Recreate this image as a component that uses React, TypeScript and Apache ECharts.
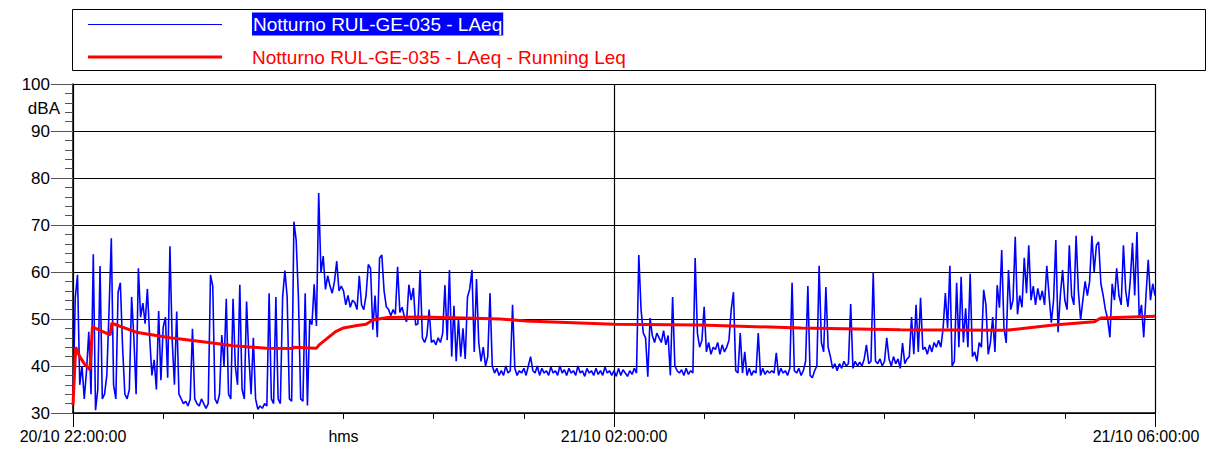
import React, { useEffect, useRef } from "react";
import * as echarts from "echarts";

// LAeq, one value per minute from 20/10 22:00:00 (minute 0) to 21/10 06:00:00 (minute 480)
const laeq: number[] = [
  32, 54.5, 59.4, 36, 40, 33, 39, 47.3, 34, 63.8,
  30.6, 35, 61.3, 33, 34, 38, 52, 67.2, 36, 33,
  55.7, 57.7, 44, 34, 33, 35, 54.7, 46, 34, 60.8,
  50.4, 53.4, 49, 56.4, 46.2, 38, 41.3, 35, 51.7, 37,
  48.2, 50.4, 37.5, 65.5, 45.5, 36, 51.6, 34, 33, 32,
  32.5, 31.5, 33, 47.9, 33, 32, 31.5, 33, 32, 31,
  32, 59.4, 57, 33, 32, 34, 46.6, 40, 54.3, 34,
  33, 54.3, 40, 36, 57.3, 35, 33, 53.7, 42.2, 34,
  46, 33, 30.8, 31.5, 31, 32, 31.5, 55.5, 33, 32,
  54.7, 33, 32, 54.7, 60.3, 54.7, 33, 32.5, 70.7, 66.8,
  54.7, 33, 32.5, 55.5, 31.6, 49.8, 48.8, 57.4, 48.5, 76.8,
  59.8, 63.4, 56.3, 59.2, 57, 55.5, 58, 62.3, 56, 57,
  56, 53, 55, 52.5, 54, 53.5, 52, 59.2, 53, 52,
  55, 61.6, 60.8, 47.7, 55, 46.1, 63, 63.6, 56, 52.6,
  52, 50.7, 52, 51, 61.1, 51.4, 52.5, 50.5, 49.4, 57.3,
  54, 56.6, 48.7, 49, 60.4, 46, 45, 46.5, 52, 45,
  45.5, 44.5, 46, 45, 47, 57.2, 45.5, 60.4, 42, 52.8,
  41, 50, 42, 48, 41.5, 54.7, 56.4, 60.4, 43, 58.5,
  45, 41, 44, 40, 42, 55.5, 40, 38.5, 39.5, 38,
  39, 38, 40, 38.5, 39, 53, 39.5, 38, 39, 38.5,
  39.5, 38, 40, 42, 39, 38.5, 40, 38, 39.5, 38.5,
  39, 38, 39.8, 38.5, 39, 38, 40, 38.5, 39.2, 38,
  39.5, 38.5, 39, 38, 40, 38.5, 39, 37.8, 39.5, 38.5,
  39, 38, 39.5, 38.2, 39, 38, 39.8, 38.5, 39, 38,
  39, 37.8, 39.5, 38, 39.2, 38.5, 37.8, 39, 38.2, 39.5,
  38.5, 63.6, 52, 47, 46, 37.7, 50.2, 46.5, 45, 47,
  46, 45, 47.5, 44.5, 46.5, 38, 54.7, 40, 39, 38.5,
  39.2, 38, 39.5, 38.2, 39, 38.5, 63, 47, 44, 45.5,
  52.6, 43, 45, 42.5, 44, 43.5, 45, 42.5, 44.5, 43,
  44, 45.5, 52, 55.7, 39, 38.5, 47, 38.5, 43, 38,
  39.5, 38, 39, 38.5, 47, 38, 39.5, 38.2, 39, 38.5,
  39, 38.5, 42.8, 38, 39.5, 38.5, 39, 38, 39.5, 57.7,
  39, 38.5, 39.5, 38, 39, 41, 57, 38, 37.5, 39,
  40, 61.3, 45, 43, 56.8, 44, 42, 39.5, 40.5, 39,
  40.5, 39.5, 41, 40, 40.5, 53.2, 39.5, 41, 40, 40.8,
  40, 41.5, 44.5, 40.5, 41, 59.8, 41, 40.5, 41.5, 40,
  41, 46, 41.5, 40, 42, 40.5, 41.5, 39.5, 44.9, 40.5,
  41.5, 42, 50.4, 42.5, 53, 43, 54.5, 43.5, 44, 42.5,
  44.5, 43, 45, 44, 45.5, 44, 48, 55.5, 48, 61.3,
  40, 41, 57.7, 44, 59, 45, 52.3, 44, 59.6, 42,
  43, 41, 45, 44, 56.2, 53, 42.5, 45, 50.4, 43,
  57.2, 52.4, 64.7, 48, 44.9, 60.4, 52, 54, 67.5, 51,
  55, 52.5, 63, 55.5, 65.7, 54, 57, 53, 56.5, 54,
  56, 53, 61.3, 55, 49.2, 54, 66.8, 47.2, 55, 60.4,
  54, 52, 65.7, 55, 53, 67.7, 56, 49.8, 54, 58,
  55, 58, 67.7, 60, 65.7, 66.4, 57.5, 55, 52, 50,
  46.1, 57.5, 54, 60.8, 55, 53, 65.7, 56, 52.6, 58,
  66.2, 55, 68.5, 50.2, 53, 46.1, 55, 62.6, 54, 57.5,
  55,
];

// Running Leq: minute and value
const runMinutes: number[] = [
  0, 1.2, 3, 5, 7.5, 8.6, 10, 16.5, 17.2, 28, 43, 58.5, 71, 86, 97.5, 98, 108,
  109.2, 116.5, 120, 126, 130, 133, 139.6, 154, 174, 189.6, 201, 240, 278, 323,
  367, 414, 435, 453, 456, 480,
];
const runValues: number[] = [
  31.7, 44, 42, 40.5, 39.2, 48.3, 48, 46.6, 49.1, 47.2, 46, 45.1, 44.3, 43.8,
  43.7, 44, 43.8, 44.5, 47.3, 48.1, 48.6, 48.9, 49.8, 50.3, 50.4, 50.2, 50,
  49.6, 48.9, 48.7, 48.1, 47.7, 47.6, 48.7, 49.4, 50.2, 50.6,
];

const xTickLabels: Record<number, string> = {
  0: "20/10 22:00:00",
  120: "hms",
  240: "21/10 02:00:00",
  480: "{last|21/10 06:00:00}",
};

const seriesNames = [
  "Notturno RUL-GE-035 - LAeq",
  "Notturno RUL-GE-035 - LAeq - Running Leq",
];
const unitLabel = "dBA";

const FONT = "'Liberation Sans', Arial, sans-serif";

export default function App() {
  const ref = useRef<HTMLDivElement>(null);
  useEffect(() => {
    if (!ref.current) return;
    const chart = echarts.init(ref.current, null, { renderer: "svg" });
    chart.setOption({
      animation: false,
      backgroundColor: "#fff",
      grid: { left: 73, right: 55, top: 84, bottom: 37, containLabel: false },
      xAxis: [
        {
          type: "value",
          min: 0,
          max: 480,
          interval: 40,
          axisLine: { show: true, lineStyle: { color: "#000", width: 1.5 } },
          axisTick: { show: true, length: 6, inside: false, lineStyle: { color: "#000", width: 1 } },
          splitLine: { show: false },
          axisLabel: {
            color: "#000",
            fontFamily: FONT,
            fontSize: 16,
            margin: 15,
            formatter: (v: number) => xTickLabels[v] ?? "",
            rich: {
              last: { fontFamily: FONT, fontSize: 16, color: "#000", padding: [0, 18, 0, 0] },
            },
          },
        },
        {
          type: "value",
          min: 0,
          max: 480,
          interval: 240,
          position: "bottom",
          axisLine: { show: false },
          axisTick: { show: true, length: 14, lineStyle: { color: "#000", width: 1 } },
          axisLabel: { show: false },
          splitLine: { show: true, lineStyle: { color: "#000", width: 1.2 } },
        },
      ],
      yAxis: {
        type: "value",
        min: 30,
        max: 100,
        interval: 10,
        axisLine: { show: true, lineStyle: { color: "#000", width: 1.5 } },
        axisTick: { show: true, length: 22, lineStyle: { color: "#555", width: 1 } },
        minorTick: { show: true, splitNumber: 5, length: 8, lineStyle: { color: "#555", width: 1 } },
        splitLine: { show: true, lineStyle: { color: "#000", width: 1.2 } },
        axisLabel: { color: "#000", fontFamily: FONT, fontSize: 17, margin: 23 },
      },
      series: [
        {
          name: seriesNames[0],
          type: "line",
          showSymbol: false,
          symbol: "none",
          data: laeq.map((v, i) => [i, v]),
          lineStyle: { color: "#0000FF", width: 1.6 },
          z: 2,
        },
        {
          name: seriesNames[1],
          type: "line",
          showSymbol: false,
          symbol: "none",
          data: runMinutes.map((t, i) => [t, runValues[i]]),
          lineStyle: { color: "#FF0000", width: 3 },
          z: 3,
        },
        {
          type: "line",
          xAxisIndex: 1,
          data: [],
          silent: true,
        },
      ],
      graphic: [
        {
          type: "rect",
          shape: { x: 72.5, y: 9.5, width: 1133, height: 61 },
          style: { fill: "none", stroke: "#000", lineWidth: 1 },
        },
        {
          type: "line",
          shape: { x1: 88, y1: 24.5, x2: 222, y2: 24.5 },
          style: { stroke: "#0000FF", lineWidth: 1 },
        },
        {
          type: "line",
          shape: { x1: 88, y1: 57, x2: 222, y2: 57 },
          style: { stroke: "#FF0000", lineWidth: 3 },
        },
        {
          type: "text",
          x: 252,
          y: 24,
          style: {
            text: seriesNames[0],
            fill: "#fff",
            backgroundColor: "#0000FF",
            padding: [2, 1, 2, 1],
            font: `19px ${FONT}`,
            verticalAlign: "middle",
            align: "left",
          },
        },
        {
          type: "text",
          x: 252,
          y: 57,
          style: {
            text: seriesNames[1],
            fill: "#FF0000",
            font: `19px ${FONT}`,
            verticalAlign: "middle",
            align: "left",
          },
        },
        {
          type: "text",
          x: 60,
          y: 108,
          style: {
            text: unitLabel,
            fill: "#000",
            font: `17px ${FONT}`,
            verticalAlign: "middle",
            align: "right",
          },
        },
      ],
    });
    return () => chart.dispose();
  }, []);
  return (
    <div
      ref={ref}
      style={{ position: "absolute", left: 0, top: 0, width: 1210, height: 450 }}
    />
  );
}
